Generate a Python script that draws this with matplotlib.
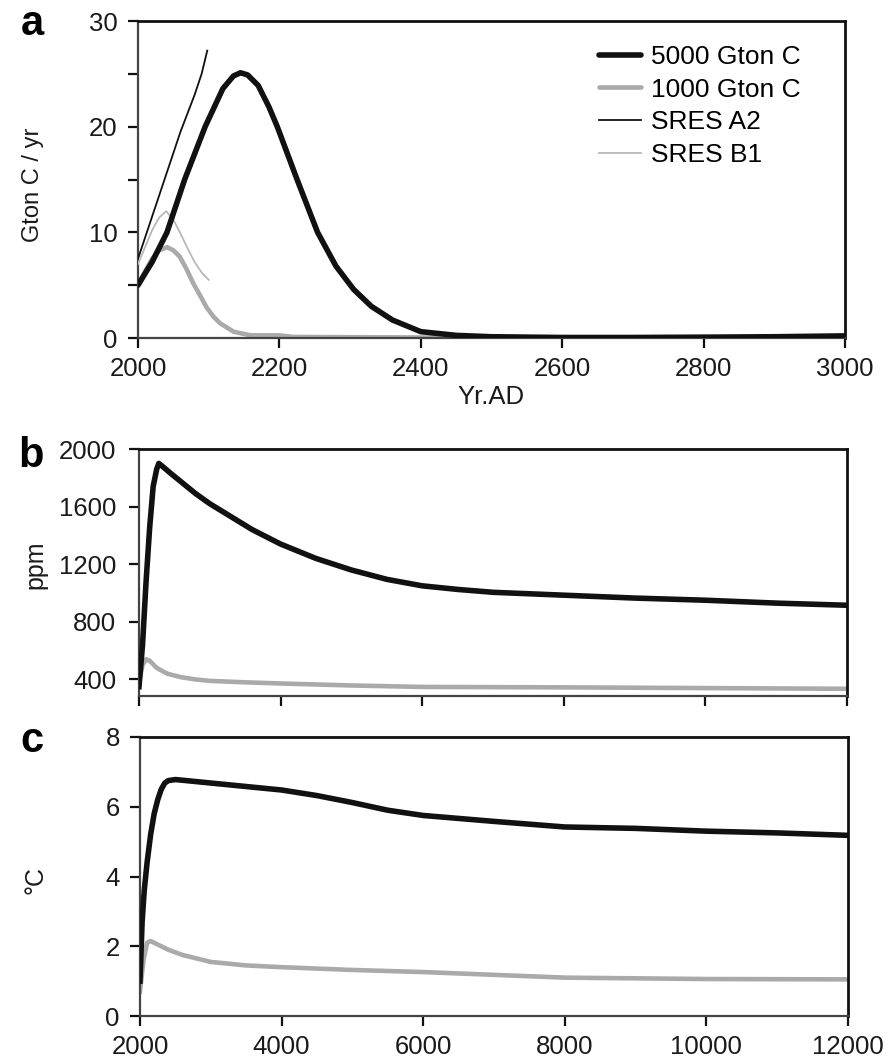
import matplotlib
matplotlib.use("Agg")
import matplotlib.pyplot as plt
from matplotlib.ticker import MultipleLocator

plt.rcParams['font.family'] = ['Liberation Sans', 'DejaVu Sans']

# ---- Panel a: emissions (Gton C / yr) ----
yr_5000 = [2000, 2020, 2041, 2066, 2095, 2120, 2135, 2145, 2155, 2170, 2185, 2197,
           2225, 2254, 2280, 2305, 2330, 2360, 2400, 2450, 2500, 2600, 2700, 2800,
           2900, 3000]
em_5000 = [5.0, 7.2, 10.0, 15.0, 20.0, 23.6, 24.8, 25.1, 24.9, 23.9, 21.9, 20.0,
           15.0, 10.0, 6.8, 4.6, 3.0, 1.7, 0.6, 0.25, 0.12, 0.05, 0.05, 0.08,
           0.12, 0.2]
yr_1000 = [2000, 2010, 2020, 2030, 2041, 2050, 2059, 2068, 2078, 2088, 2097, 2107,
           2116, 2135, 2159, 2200, 2220, 2400, 3000]
em_1000 = [5.0, 6.3, 7.5, 8.3, 8.6, 8.3, 7.7, 6.6, 5.2, 4.0, 2.9, 2.0,
           1.4, 0.6, 0.25, 0.25, 0.1, 0.05, 0.05]
yr_a2 = [2000, 2020, 2040, 2060, 2080, 2090, 2098]
em_a2 = [7.5, 11.5, 15.5, 19.5, 23.0, 25.0, 27.2]
yr_b1 = [2000, 2010, 2020, 2030, 2040, 2050, 2060, 2070, 2080, 2090, 2100]
em_b1 = [7.0, 8.6, 10.2, 11.4, 12.0, 11.2, 9.9, 8.5, 7.2, 6.2, 5.5]

# ---- Panel b: atmospheric CO2 (ppm) ----
yr_ppm_5000 = [2000, 2050, 2100, 2150, 2200, 2250, 2280, 2330, 2450, 2600, 2800,
               3000, 3300, 3600, 4000, 4500, 5000, 5500, 6000, 6500, 7000, 8000,
               9000, 10000, 11000, 12000]
ppm_5000 = [350, 640, 1080, 1450, 1740, 1860, 1900, 1880, 1830, 1770, 1690,
            1620, 1530, 1440, 1340, 1240, 1160, 1095, 1050, 1025, 1005, 985,
            965, 950, 930, 915]
yr_ppm_1000 = [2000, 2050, 2100, 2150, 2250, 2400, 2600, 2800, 3000, 3500, 4000,
               5000, 6000, 8000, 10000, 12000]
ppm_1000 = [380, 500, 540, 530, 480, 440, 415, 400, 390, 380, 372,
            358, 348, 345, 340, 335]

# ---- Panel c: temperature (°C) ----
yr_t_5000 = [2000, 2030, 2060, 2100, 2150, 2200, 2250, 2300, 2350, 2400, 2500,
             3000, 3500, 4000, 4500, 5000, 5500, 6000, 7000, 8000, 9000, 10000,
             11000, 12000]
t_5000 = [1.0, 2.7, 3.6, 4.4, 5.2, 5.8, 6.2, 6.5, 6.68, 6.75, 6.78,
          6.68, 6.58, 6.48, 6.32, 6.12, 5.9, 5.75, 5.58, 5.42, 5.38, 5.3,
          5.25, 5.18]
yr_t_1000 = [2000, 2050, 2100, 2150, 2200, 2400, 2600, 3000, 3500, 4000, 5000,
             6000, 7000, 8000, 9000, 10000, 12000]
t_1000 = [0.7, 1.6, 2.1, 2.15, 2.1, 1.9, 1.75, 1.55, 1.45, 1.4, 1.32,
          1.26, 1.18, 1.1, 1.08, 1.06, 1.05]

BLACK = '#111111'
GRAY = '#aaaaaa'
LGRAY = '#b8b8b8'
FS = 18.5
W, H = 891, 1064

fig = plt.figure(figsize=(8.91, 10.64), dpi=100)


def box(l, t, r, b):
    return [l / W, 1 - b / H, (r - l) / W, (b - t) / H]


ax_a = fig.add_axes(box(138, 21, 845, 338))
ax_b = fig.add_axes(box(139, 449, 847, 696))
ax_c = fig.add_axes(box(140, 737, 848, 1016))


def style(ax, ypad=7):
    for s in ['top', 'right']:
        ax.spines[s].set_color('#111111')
        ax.spines[s].set_linewidth(2.0)
    for s in ['left', 'bottom']:
        ax.spines[s].set_color('#444444')
        ax.spines[s].set_linewidth(1.6)
    ax.tick_params(axis='both', which='both', direction='out', length=7.5,
                   width=1.6, color='#111111', labelsize=FS, labelcolor='#1a1a1a')
    ax.tick_params(axis='y', pad=ypad)
    ax.tick_params(axis='x', pad=6)
    ax.tick_params(top=False, right=False)


# Panel a
ax_a.plot(yr_a2, em_a2, color=BLACK, lw=1.3, label='SRES A2', zorder=3)
ax_a.plot(yr_b1, em_b1, color=LGRAY, lw=1.3, label='SRES B1', zorder=3)
ax_a.plot(yr_1000, em_1000, color=GRAY, lw=3.3, label='1000 Gton C', zorder=2,
          solid_capstyle='round')
ax_a.plot(yr_5000, em_5000, color=BLACK, lw=4.0, label='5000 Gton C', zorder=4,
          solid_capstyle='round')
ax_a.set_xlim(2000, 3000)
ax_a.set_ylim(0, 30)
ax_a.xaxis.set_major_locator(MultipleLocator(200))
ax_a.yaxis.set_major_locator(MultipleLocator(10))
ax_a.yaxis.set_minor_locator(MultipleLocator(5))
ax_a.set_xlabel('Yr.AD', fontsize=FS, labelpad=3, color='#1a1a1a')
style(ax_a)
h, l = ax_a.get_legend_handles_labels()
order = [3, 2, 0, 1]
ax_a.legend([h[i] for i in order], [l[i] for i in order], loc='upper right',
            bbox_to_anchor=(801 / W, 1 - 45 / H), bbox_transform=fig.transFigure,
            frameon=False, fontsize=19, borderpad=0, borderaxespad=0,
            handlelength=1.6, handletextpad=0.4, labelspacing=0.33)

# Panel b
ax_b.plot(yr_ppm_1000, ppm_1000, color=GRAY, lw=3.3, zorder=2)
ax_b.plot(yr_ppm_5000, ppm_5000, color=BLACK, lw=4.0, zorder=3)
ax_b.set_xlim(2000, 12000)
ax_b.set_ylim(285, 2000)
ax_b.xaxis.set_major_locator(MultipleLocator(2000))
ax_b.set_yticks([400, 800, 1200, 1600, 2000])
style(ax_b, ypad=9)
ax_b.tick_params(axis='x', labelbottom=False)

# Panel c
ax_c.plot(yr_t_1000, t_1000, color=GRAY, lw=3.3, zorder=2)
ax_c.plot(yr_t_5000, t_5000, color=BLACK, lw=4.0, zorder=3)
ax_c.set_xlim(2000, 12000)
ax_c.set_ylim(0, 8)
ax_c.xaxis.set_major_locator(MultipleLocator(2000))
ax_c.yaxis.set_major_locator(MultipleLocator(2))
style(ax_c)

# Y-axis labels
fig.text(33 / W, 1 - 185 / H, 'Gton C / yr', rotation=90, fontsize=17,
         ha='center', va='center', color='#1a1a1a')
fig.text(35 / W, 1 - 565 / H, 'ppm', rotation=90, fontsize=18,
         ha='center', va='center', color='#1a1a1a')
fig.text(35 / W, 1 - 880 / H, '°C', rotation=90, fontsize=18,
         ha='center', va='center', color='#1a1a1a')

# Panel letters
fig.text(32 / W, 1 - 35 / H, 'a', fontsize=30, fontweight='bold',
         ha='center', va='baseline')
fig.text(31 / W, 1 - 467 / H, 'b', fontsize=30, fontweight='bold',
         ha='center', va='baseline')
fig.text(32 / W, 1 - 752 / H, 'c', fontsize=30, fontweight='bold',
         ha='center', va='baseline')

fig.savefig('out.png', dpi=100)
